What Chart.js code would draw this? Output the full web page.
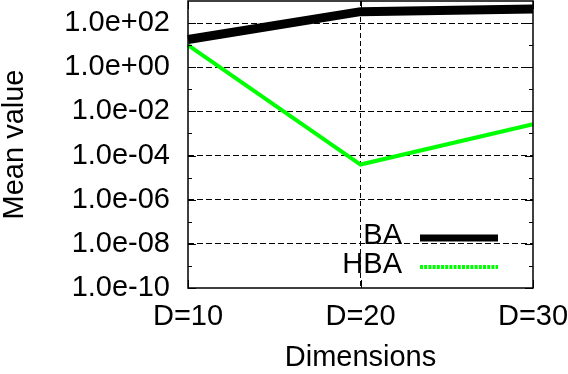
<!DOCTYPE html>
<html lang="en">
<head>
    <meta charset="UTF-8">
    <title>Mean value vs Dimensions</title>
    <script src="https://cdn.jsdelivr.net/npm/chart.js"></script>
    <style>
        html, body { margin: 0; padding: 0; background: #fff; }
        #wrap { width: 568px; height: 374px; }
    </style>
</head>
<body>
    <div id="wrap"><canvas id="meanChart" width="568" height="374"></canvas></div>

    <script>
        // data
        const dims = ['D=10', 'D=20', 'D=30'];
        const baValues = [18, 330, 430];
        const hbaValues = [10, 3.9e-5, 2.6e-3];
        const yTickValues = [1e-10, 1e-8, 1e-6, 1e-4, 1e-2, 1e0, 1e2];
        const yTickLabels = ['1.0e-10', '1.0e-08', '1.0e-06', '1.0e-04', '1.0e-02', '1.0e+00', '1.0e+02'];
        const yMinorValues = [1e-9, 1e-7, 1e-5, 1e-3, 1e-1, 1e1];

        const FONT = '"Liberation Sans", Arial, sans-serif';

        function isLabelled(v) {
            return yTickValues.some(t => Math.abs(Math.log10(t) - Math.log10(v)) < 1e-6);
        }

        // gnuplot style frame, inward ticks and legend inside the plot
        const gnuplotFrame = {
            id: 'gnuplotFrame',
            afterDatasetsDraw(chart) {
                const { ctx, chartArea: a, scales } = chart;
                ctx.save();
                ctx.strokeStyle = '#000';
                ctx.lineWidth = 1;
                // inward ticks on left / right
                yTickValues.concat(yMinorValues).forEach(v => {
                    const y = Math.round(scales.y.getPixelForValue(v)) + 0.5;
                    const len = isLabelled(v) ? 8 : 4;
                    ctx.beginPath();
                    ctx.moveTo(a.left, y); ctx.lineTo(a.left + len, y);
                    ctx.moveTo(a.right, y); ctx.lineTo(a.right - len, y);
                    ctx.stroke();
                });
                // inward ticks top / bottom
                dims.forEach((d, i) => {
                    const x = Math.round(scales.x.getPixelForValue(i)) + 0.5;
                    ctx.beginPath();
                    ctx.moveTo(x, a.bottom); ctx.lineTo(x, a.bottom - 8);
                    ctx.moveTo(x, a.top); ctx.lineTo(x, a.top + 8);
                    ctx.stroke();
                });
                ctx.lineWidth = 1.5;
                ctx.strokeRect(a.left, a.top, a.right - a.left, a.bottom - a.top);

                // legend
                ctx.font = '29px ' + FONT;
                ctx.textAlign = 'right';
                ctx.textBaseline = 'middle';
                chart.data.datasets.forEach((ds, i) => {
                    const y = a.bottom - 52 + i * 29;
                    ctx.fillStyle = '#000';
                    ctx.fillText(ds.label, a.right - 131, y);
                    ctx.strokeStyle = ds.borderColor;
                    ctx.lineWidth = i === 0 ? 7 : 4;
                    ctx.setLineDash(i === 0 ? [] : [3, 1.2]);
                    ctx.beginPath();
                    ctx.moveTo(a.right - 113, y + 2);
                    ctx.lineTo(a.right - 35, y + 2);
                    ctx.stroke();
                    ctx.setLineDash([]);
                });
                ctx.restore();
            }
        };

        new Chart(document.getElementById('meanChart'), {
            type: 'line',
            data: {
                labels: dims,
                datasets: [{
                    label: 'BA',
                    data: baValues,
                    borderColor: '#000000',
                    borderWidth: 9,
                    pointRadius: 0,
                    tension: 0
                },
                {
                    label: 'HBA',
                    data: hbaValues,
                    borderColor: '#00ff00',
                    borderWidth: 4,
                    pointRadius: 0,
                    tension: 0
                }]
            },
            options: {
                responsive: false,
                animation: false,
                layout: { padding: { top: 1, right: 35, left: 0, bottom: 0 } },
                plugins: {
                    legend: { display: false },
                    tooltip: { enabled: false }
                },
                scales: {
                    x: {
                        type: 'category',
                        offset: false,
                        afterFit(scale) {
                            scale.height = 86;
                            scale.paddingLeft = 0;
                            scale.paddingRight = 0;
                        },
                        grid: {
                            drawTicks: false,
                            color: ctx => ctx.index === 1 ? '#000' : 'rgba(0,0,0,0)',
                            lineWidth: 1
                        },
                        border: { display: false, dash: [5, 3] },
                        ticks: {
                            color: '#000',
                            padding: 12,
                            autoSkip: false,
                            maxRotation: 0,
                            font: { family: FONT, size: 29 }
                        },
                        title: {
                            display: true,
                            text: 'Dimensions',
                            color: '#000',
                            padding: { top: 0, bottom: 2 },
                            font: { family: FONT, size: 29, lineHeight: 1 }
                        }
                    },
                    y: {
                        type: 'logarithmic',
                        min: 1e-10,
                        max: 1e3,
                        afterFit(scale) {
                            scale.width = 188;
                            scale.paddingTop = 0;
                            scale.paddingBottom = 0;
                        },
                        afterBuildTicks(scale) {
                            scale.ticks = yTickValues.concat(yMinorValues)
                                .sort((p, q) => p - q)
                                .map(v => ({ value: v }));
                        },
                        grid: {
                            drawTicks: false,
                            color: ctx => (ctx.tick && isLabelled(ctx.tick.value) && ctx.tick.value > 1e-10) ? '#000' : 'rgba(0,0,0,0)',
                            lineWidth: 1
                        },
                        border: { display: false, dash: [6, 3] },
                        ticks: {
                            color: '#000',
                            padding: 18,
                            font: { family: FONT, size: 29 },
                            callback(v) {
                                const i = yTickValues.findIndex(t => Math.abs(Math.log10(t) - Math.log10(v)) < 1e-6);
                                return i >= 0 ? yTickLabels[i] : '';
                            }
                        },
                        title: {
                            display: true,
                            text: 'Mean value',
                            color: '#000',
                            padding: { top: 0, bottom: 0 },
                            font: { family: FONT, size: 29, lineHeight: 1 }
                        }
                    }
                }
            },
            plugins: [gnuplotFrame]
        });
    </script>
</body>
</html>
